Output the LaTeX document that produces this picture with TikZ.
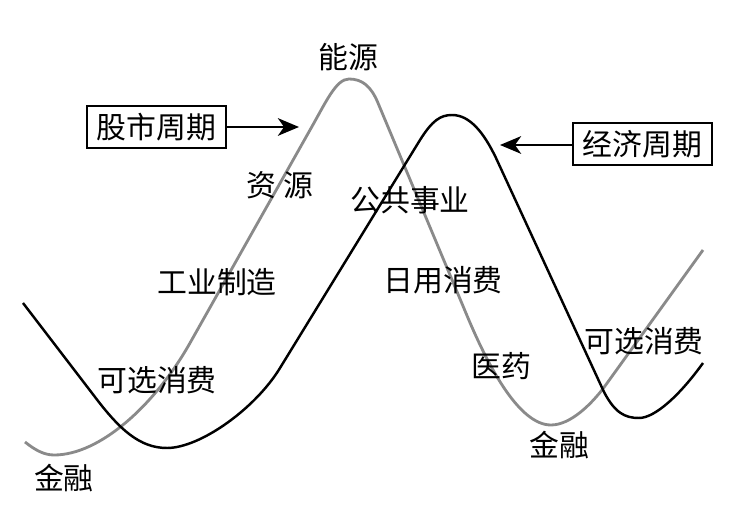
\documentclass[tikz,border=0pt]{standalone}
\usepackage{fontspec}
\newfontfamily\cjkfont{Noto Sans CJK SC}
\usetikzlibrary{arrows.meta}
\definecolor{stockgray}{HTML}{8A8A8A}
\tikzset{
  stockline/.style={stockgray, line width=1.6pt},
  econline/.style={black, line width=1.4pt},
  cyclebox/.style={draw, line width=1.5pt, inner sep=0pt, minimum width=2.78cm, minimum height=0.84cm},
  pointer/.style={line width=1.6pt, -{Stealth[length=12pt,width=10pt,inset=3.5pt]}},
  sector/.style={inner sep=0pt},
}

\begin{document}
\begin{tikzpicture}[x=0.02cm, y=-0.02cm, font=\cjkfont\fontsize{17}{20}\selectfont]
	\useasboundingbox (0,0) rectangle (750,526);

	% stock market cycle
	\draw[stockline] (25,442) .. controls (35,450) and (44,455) .. (54,455)
		.. controls (100,455) and (155,405) .. (190,343) -- (310,130)
		.. controls (326,102) and (336,79) .. (349,79)
		.. controls (362,79) and (371,86) .. (378,103) -- (468,318)
		.. controls (490,370) and (520,425) .. (551,425)
		.. controls (570,425) and (591,405) .. (605,386) -- (703,250);

	% economic cycle
	\draw[econline] (23,303) -- (95,397)
		.. controls (120,430) and (140,448) .. (167,448)
		.. controls (200,448) and (255,409) .. (280,368) -- (420,140)
		.. controls (432,121) and (440,115) .. (452,115)
		.. controls (470,115) and (484,133) .. (496,158) -- (604,392)
		.. controls (615,413) and (625,418) .. (639,418)
		.. controls (655,418) and (680,395) .. (703,363);

	% boxes
	\node[cyclebox] (stock) at (156.5,127) {股市周期};
	\node[cyclebox] (econ) at (642.5,144) {经济周期};
	\coordinate (stocktip) at (299,127);
	\coordinate (econtip) at (500,145);
	\draw[pointer] (stock.east) -- (stocktip);
	\draw[pointer] (econ.west |- econtip) -- (econtip);

	% sectors
	\node[sector] (energy) at (348,57) {能源};
	\node[sector] (resource) at (280,185) {资\ 源};
	\node[sector] (utility) at (410,200) {公共事业};
	\node[sector] (industry) at (217,282) {工业制造};
	\node[sector] (optleft) at (157,380) {可选消费};
	\node[sector] (finleft) at (64,478) {金融};
	\node[sector] (staples) at (443,280) {日用消费};
	\node[sector] (pharma) at (501,366) {医药};
	\node[sector] (finright) at (559,445) {金融};
	\node[sector] (optright) at (644,341) {可选消费};
\end{tikzpicture}
\end{document}
